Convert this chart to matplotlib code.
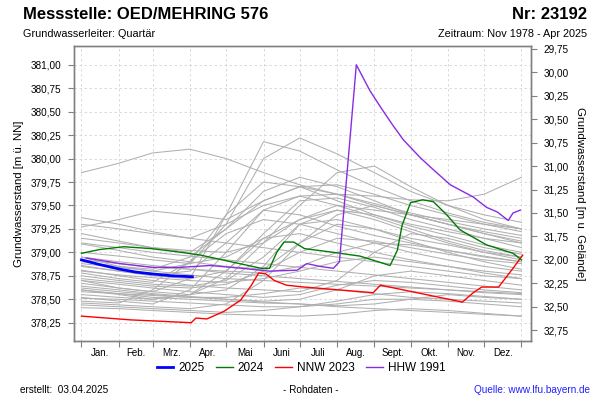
import matplotlib
matplotlib.use("Agg")
import matplotlib.pyplot as plt
from matplotlib.ticker import FixedLocator, FuncFormatter

plt.rcParams['font.family'] = ['Liberation Sans', 'DejaVu Sans']

# day of year for month starts (gray yearly traces are given per month start)
month_days = [0, 31, 59, 90, 120, 151, 181, 212, 243, 273, 304, 334, 365]
month_names = ['Jan.', 'Feb.', 'Mrz.', 'Apr.', 'Mai', 'Juni', 'Juli', 'Aug.',
               'Sept.', 'Okt.', 'Nov.', 'Dez.']

# older years (gray), m ü. NN at each month start
gray_years = [
    [379.85, 379.95, 380.06, 380.10, 380.00, 379.85, 379.72, 379.62, 379.52, 379.42, 379.33, 379.25, 379.18],
    [378.95, 378.85, 378.80, 378.88, 379.30, 380.00, 380.22, 380.05, 379.85, 379.65, 379.50, 379.40, 379.32],
    [378.70, 378.62, 378.58, 378.72, 379.40, 380.18, 380.08, 379.88, 379.70, 379.55, 379.42, 379.32, 379.25],
    [378.60, 378.55, 378.50, 378.55, 378.72, 379.10, 379.50, 379.85, 379.92, 379.70, 379.50, 379.35, 379.25],
    [379.30, 379.25, 379.20, 379.15, 379.30, 379.50, 379.60, 379.62, 379.60, 379.56, 379.55, 379.62, 379.80],
    [379.37, 379.30, 379.22, 379.15, 379.10, 379.05, 379.00, 378.95, 378.90, 378.85, 378.80, 378.75, 378.72],
    [379.27, 379.35, 379.44, 379.40, 379.35, 379.55, 379.70, 379.62, 379.50, 379.40, 379.30, 379.22, 379.15],
    [379.20, 379.12, 379.05, 379.00, 379.25, 379.65, 379.80, 379.70, 379.55, 379.40, 379.30, 379.20, 379.12],
    [379.09, 379.02, 378.95, 378.90, 378.85, 378.82, 379.10, 379.40, 379.50, 379.40, 379.30, 379.20, 379.10],
    [378.86, 378.80, 378.75, 378.72, 378.80, 379.20, 379.55, 379.58, 379.48, 379.35, 379.25, 379.15, 379.05],
    [378.81, 378.75, 378.70, 378.65, 378.62, 378.60, 378.58, 378.70, 379.00, 379.20, 379.15, 379.05, 378.98],
    [378.78, 378.72, 378.68, 378.90, 379.40, 379.75, 379.70, 379.55, 379.40, 379.28, 379.18, 379.08, 379.00],
    [378.67, 378.62, 378.58, 378.55, 378.60, 378.85, 379.30, 379.45, 379.35, 379.22, 379.10, 379.00, 378.92],
    [378.62, 378.58, 378.55, 378.52, 378.50, 378.48, 378.50, 378.60, 378.75, 378.80, 378.75, 378.70, 378.65],
    [378.52, 378.48, 378.45, 378.60, 379.00, 379.45, 379.60, 379.50, 379.38, 379.25, 379.12, 379.02, 378.95],
    [378.51, 378.50, 378.48, 378.46, 378.44, 378.42, 378.42, 378.45, 378.50, 378.50, 378.48, 378.45, 378.42],
    [378.46, 378.44, 378.42, 378.40, 378.45, 378.70, 379.10, 379.30, 379.25, 379.12, 379.00, 378.90, 378.82],
    [378.41, 378.40, 378.38, 378.36, 378.34, 378.33, 378.32, 378.34, 378.38, 378.40, 378.38, 378.35, 378.32],
    [379.10, 379.05, 379.00, 378.96, 378.92, 378.88, 378.84, 378.80, 378.76, 378.72, 378.68, 378.64, 378.60],
    [378.95, 378.90, 378.86, 378.82, 378.78, 378.75, 378.72, 378.69, 378.66, 378.63, 378.60, 378.57, 378.55],
    [378.88, 378.84, 378.80, 378.76, 378.72, 378.70, 378.68, 378.66, 378.64, 378.62, 378.60, 378.58, 378.56],
    [378.70, 378.66, 378.62, 378.58, 378.55, 378.52, 378.55, 378.65, 378.70, 378.68, 378.64, 378.60, 378.57],
    [378.58, 378.56, 378.54, 378.52, 378.52, 378.56, 378.62, 378.60, 378.56, 378.52, 378.50, 378.48, 378.46],
    [378.85, 378.80, 378.76, 378.80, 379.10, 379.45, 379.40, 379.28, 379.18, 379.10, 379.02, 378.95, 378.90],
    [378.75, 378.70, 378.66, 378.64, 378.70, 378.95, 379.30, 379.35, 379.25, 379.15, 379.08, 379.00, 378.95],
    [378.55, 378.52, 378.50, 378.55, 378.80, 379.15, 379.20, 379.10, 379.00, 378.92, 378.85, 378.78, 378.72],
    [379.15, 379.10, 379.05, 379.02, 379.00, 379.10, 379.35, 379.50, 379.45, 379.40, 379.35, 379.30, 379.25],
    [378.90, 378.85, 378.82, 378.95, 379.25, 379.55, 379.70, 379.72, 379.62, 379.50, 379.40, 379.30, 379.22],
    [378.64, 378.60, 378.56, 378.53, 378.50, 378.47, 378.45, 378.43, 378.45, 378.50, 378.55, 378.52, 378.50],
    [378.48, 378.46, 378.60, 378.90, 379.20, 379.35, 379.30, 379.20, 379.10, 379.00, 378.92, 378.85, 378.80],
    [378.80, 378.76, 378.73, 378.70, 378.68, 378.72, 378.80, 378.90, 378.95, 378.90, 378.85, 378.80, 378.76],
    [379.00, 378.96, 378.92, 378.88, 378.95, 379.15, 379.35, 379.45, 379.40, 379.30, 379.22, 379.15, 379.10],
    [378.44, 378.42, 378.40, 378.38, 378.36, 378.38, 378.42, 378.48, 378.55, 378.58, 378.56, 378.53, 378.50],
    [378.60, 378.56, 378.52, 378.50, 378.48, 378.46, 378.45, 378.42, 378.40, 378.38, 378.36, 378.34, 378.32],
    [378.72, 378.68, 378.64, 378.62, 378.66, 378.80, 379.00, 379.15, 379.12, 379.05, 378.98, 378.92, 378.88],
    [378.92, 378.88, 378.84, 378.82, 378.80, 378.78, 378.85, 379.00, 379.10, 379.08, 379.02, 378.96, 378.90],
]

days_2025 = [0, 15, 32, 45, 59, 75, 92]
vals_2025 = [378.92, 378.87, 378.82, 378.79, 378.77, 378.75, 378.74]

days_2024 = [0, 15, 35, 58, 83, 99, 124, 149, 156, 162, 168, 176, 185, 209, 231,
             256, 262, 266, 273, 283, 292, 303, 314, 336, 358, 365]
vals_2024 = [378.99, 379.03, 379.06, 379.04, 379.00, 378.97, 378.90, 378.83, 378.83,
             379.00, 379.11, 379.11, 379.04, 379.00, 378.96, 378.86, 379.02, 379.29,
             379.53, 379.56, 379.54, 379.40, 379.24, 379.08, 378.99, 378.92]

days_nnw = [0, 41, 91, 95, 104, 118, 132, 141, 147, 153, 160, 170, 185, 242, 248,
            316, 325, 332, 346, 358, 366]
vals_nnw = [378.32, 378.28, 378.25, 378.30, 378.29, 378.37, 378.49, 378.65, 378.78,
            378.77, 378.70, 378.65, 378.63, 378.57, 378.65, 378.47, 378.57, 378.63,
            378.63, 378.83, 378.97]

days_hhw = [4, 32, 59, 82, 107, 133, 156, 179, 187, 198, 209, 214, 228, 239, 248,
            258, 267, 281, 292, 306, 325, 336, 345, 354, 358, 364]
vals_hhw = [378.94, 378.88, 378.84, 378.84, 378.86, 378.83, 378.80, 378.81, 378.88,
            378.85, 378.83, 378.90, 381.00, 380.73, 380.55, 380.36, 380.20, 380.01,
            379.88, 379.72, 379.59, 379.48, 379.43, 379.34, 379.42, 379.45]

ground = 410.92  # m ü. NN, for the right-hand depth scale


def comma(v, pos):
    return f"{v:.2f}".replace('.', ',')


def plot_hydrograph():
    fig = plt.figure(figsize=(6, 4), dpi=100)
    ax = fig.add_axes([74 / 600, 1 - 341 / 400, 457 / 600, 295 / 400])

    for vals in gray_years:
        ax.plot(month_days, vals, color='#b0b0b0', lw=0.75, zorder=2)

    ax.plot(days_nnw, vals_nnw, color='#ff0000', lw=1.0, label='NNW 2023', zorder=4)
    ax.plot(days_2024, vals_2024, color='#007a00', lw=1.0, label='2024', zorder=4)
    ax.plot(days_hhw, vals_hhw, color='#8a2be2', lw=1.0, label='HHW 1991', zorder=4)
    ax.plot(days_2025, vals_2025, color='#0000ff', lw=2.0, label='2025', zorder=5)

    ax.set_xlim(-6.2, 372.9)
    ax.set_ylim(378.055, 381.2)

    # month boundaries carry ticks and grid, labels sit mid-month
    ax.xaxis.set_major_locator(FixedLocator(month_days))
    ax.xaxis.set_minor_locator(FixedLocator([(a + b) / 2 for a, b in zip(month_days[:-1], month_days[1:])]))
    ax.xaxis.set_major_formatter(FuncFormatter(lambda v, p: ''))
    ax.set_xticklabels(month_names, minor=True)
    ax.tick_params(axis='x', which='major', length=4, color='#808080', direction='out')
    ax.tick_params(axis='x', which='minor', length=0, labelsize=7, pad=5)

    yt = [378.25 + 0.25 * i for i in range(12)]
    ax.set_yticks(yt)
    ax.yaxis.set_major_formatter(FuncFormatter(comma))
    ax.tick_params(axis='y', length=4, color='#808080', labelsize=7.2, pad=5)
    ax.grid(True, which='major', color='#d4d4d4', ls=(0, (3, 3)), lw=0.6)
    ax.set_axisbelow(True)
    ax.set_ylabel('Grundwasserstand [m ü. NN]', fontsize=8.2, labelpad=5)

    ax2 = ax.twinx()
    ax2.set_ylim(ground - 378.055, ground - 381.2)
    ax2.set_yticks([29.75 + 0.25 * i for i in range(13)])
    ax2.yaxis.set_major_formatter(FuncFormatter(comma))
    ax2.tick_params(axis='y', length=4, color='#808080', labelsize=7.2, pad=5)
    ax2.set_ylabel('Grundwasserstand [m u. Gelände]', fontsize=8.2, rotation=270, labelpad=12)

    for a in (ax, ax2):
        for s in a.spines.values():
            s.set_color('#808080')
            s.set_linewidth(1.0)

    fig.text(23 / 600, 1 - 19 / 400, 'Messstelle: OED/MEHRING 576', fontsize=12, fontweight='bold')
    fig.text(587 / 600, 1 - 19 / 400, 'Nr: 23192', fontsize=12, fontweight='bold', ha='right')
    fig.text(23 / 600, 1 - 37 / 400, 'Grundwasserleiter: Quartär', fontsize=7.8)
    fig.text(587 / 600, 1 - 37 / 400, 'Zeitraum: Nov 1978 - Apr 2025', fontsize=7.8, ha='right')

    handles, labels = ax.get_legend_handles_labels()
    order = [labels.index(k) for k in ['2025', '2024', 'NNW 2023', 'HHW 1991']]
    fig.legend([handles[i] for i in order], [labels[i] for i in order],
               loc='center', bbox_to_anchor=(301 / 600, 1 - 368 / 400), ncol=4,
               frameon=False, fontsize=8.5, handlelength=1.4, handletextpad=0.4,
               columnspacing=1.0)

    fig.text(20 / 600, 1 - 390 / 400, 'erstellt:  03.04.2025', fontsize=7.2, va='center')
    fig.text(311 / 600, 1 - 390 / 400, '- Rohdaten -', fontsize=7.2, va='center', ha='center')
    fig.text(590 / 600, 1 - 390 / 400, 'Quelle: www.lfu.bayern.de', fontsize=7.2,
             va='center', ha='right', color='#2020ff')

    fig.savefig('out.png', dpi=100)


if __name__ == "__main__":
    plot_hydrograph()
